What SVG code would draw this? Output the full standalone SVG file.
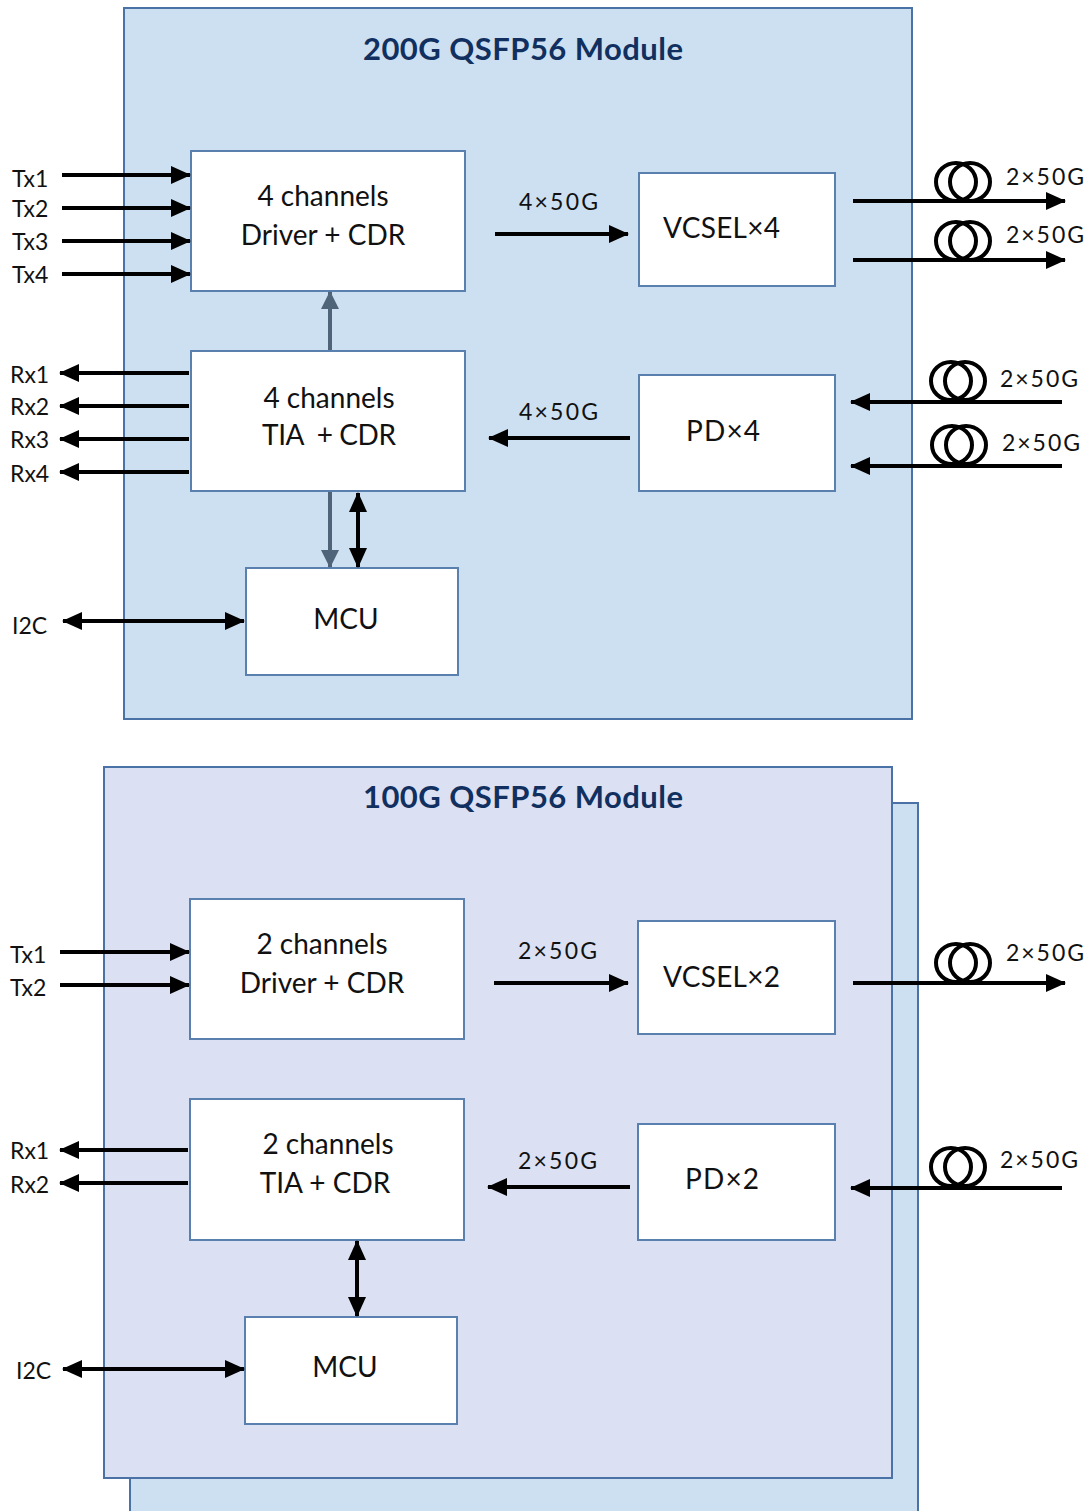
<svg xmlns="http://www.w3.org/2000/svg" width="1092" height="1511" viewBox="0 0 1092 1511">
<style>
.mod{stroke:#4a72a6;stroke-width:2}
.box{fill:#fff;stroke:#5a80b0;stroke-width:2}
.t{font-family:Lato,"Liberation Sans",sans-serif;font-size:28px;fill:#111}
.s{font-family:Lato,"Liberation Sans",sans-serif;font-size:23px;fill:#111}
.ttl{font-family:Lato,"Liberation Sans",sans-serif;font-size:31px;font-weight:bold;fill:#11305f}
.a{stroke:#000;stroke-width:4;fill:none}
.g{stroke:#4f6379;stroke-width:4;fill:none}
.coil{stroke:#000;stroke-width:4;fill:none}
</style>
<defs>
<marker id="ah" markerUnits="userSpaceOnUse" markerWidth="20" markerHeight="18" refX="19" refY="9" orient="auto-start-reverse"><path d="M0,0 L20,9 L0,18 Z" fill="#000"/></marker>
<marker id="ag" markerUnits="userSpaceOnUse" markerWidth="18" markerHeight="18" refX="17" refY="9" orient="auto-start-reverse"><path d="M0,0 L18,9 L0,18 Z" fill="#4f6379"/></marker>
</defs>

<!-- Top module -->
<g id="module200">
<rect class="mod" x="124" y="8" width="788" height="711" fill="#cde0f1"/>
<text class="ttl" x="363" y="60" textLength="320" lengthAdjust="spacing">200G QSFP56 Module</text>
</g>
<g id="driver4"><rect class="box" x="191" y="151" width="274" height="140"/>
<text class="t" x="323" y="206" text-anchor="middle">4 channels</text>
<text class="t" x="323" y="245" text-anchor="middle">Driver + CDR</text></g>
<g id="vcsel4"><rect class="box" x="639" y="173" width="196" height="113"/>
<text class="t" x="663" y="238" textLength="117" lengthAdjust="spacing">VCSEL×4</text></g>
<g id="tia4"><rect class="box" x="191" y="351" width="274" height="140"/>
<text class="t" x="329" y="408" text-anchor="middle">4 channels</text>
<text class="t" x="262" y="445" textLength="134" lengthAdjust="spacing" xml:space="preserve">TIA  + CDR</text></g>
<g id="pd4"><rect class="box" x="639" y="375" width="196" height="116"/>
<text class="t" x="686" y="441" textLength="74" lengthAdjust="spacing">PD×4</text></g>
<g id="mcu1"><rect class="box" x="246" y="568" width="212" height="107"/>
<text class="t" x="346" y="629" text-anchor="middle">MCU</text></g>

<!-- Bottom module -->
<g id="module100">
<rect class="mod" x="130" y="803" width="788" height="720" fill="#cde0f1"/>
<rect class="mod" x="104" y="767" width="788" height="711" fill="#dbe1f3"/>
<text class="ttl" x="363" y="808" textLength="320" lengthAdjust="spacing">100G QSFP56 Module</text>
</g>
<g id="driver2"><rect class="box" x="190" y="899" width="274" height="140"/>
<text class="t" x="322" y="954" text-anchor="middle">2 channels</text>
<text class="t" x="322" y="993" text-anchor="middle">Driver + CDR</text></g>
<g id="vcsel2"><rect class="box" x="638" y="921" width="197" height="113"/>
<text class="t" x="663" y="987" textLength="117" lengthAdjust="spacing">VCSEL×2</text></g>
<g id="tia2"><rect class="box" x="190" y="1099" width="274" height="141"/>
<text class="t" x="328" y="1154" text-anchor="middle">2 channels</text>
<text class="t" x="325" y="1193" text-anchor="middle">TIA + CDR</text></g>
<g id="pd2"><rect class="box" x="638" y="1124" width="197" height="116"/>
<text class="t" x="685" y="1189" textLength="74" lengthAdjust="spacing">PD×2</text></g>
<g id="mcu2"><rect class="box" x="245" y="1317" width="212" height="107"/>
<text class="t" x="345" y="1377" text-anchor="middle">MCU</text></g>

<!-- labels -->
<g id="labels">
<text class="s" x="12" y="187">Tx1</text>
<text class="s" x="12" y="217">Tx2</text>
<text class="s" x="12" y="250">Tx3</text>
<text class="s" x="12" y="283">Tx4</text>
<text class="s" x="10" y="383">Rx1</text>
<text class="s" x="10" y="415">Rx2</text>
<text class="s" x="10" y="448">Rx3</text>
<text class="s" x="10" y="482">Rx4</text>
<text class="s" x="12" y="634">I2C</text>
<text class="s" x="519" y="210" textLength="79" lengthAdjust="spacing">4×50G</text>
<text class="s" x="519" y="420" textLength="79" lengthAdjust="spacing">4×50G</text>
<text class="s" x="1006" y="185" textLength="78" lengthAdjust="spacing">2×50G</text>
<text class="s" x="1006" y="243" textLength="78" lengthAdjust="spacing">2×50G</text>
<text class="s" x="1000" y="387" textLength="78" lengthAdjust="spacing">2×50G</text>
<text class="s" x="1002" y="451" textLength="78" lengthAdjust="spacing">2×50G</text>
<text class="s" x="10" y="963">Tx1</text>
<text class="s" x="10" y="996">Tx2</text>
<text class="s" x="10" y="1159">Rx1</text>
<text class="s" x="10" y="1193">Rx2</text>
<text class="s" x="16" y="1379">I2C</text>
<text class="s" x="518" y="959" textLength="79" lengthAdjust="spacing">2×50G</text>
<text class="s" x="518" y="1169" textLength="79" lengthAdjust="spacing">2×50G</text>
<text class="s" x="1006" y="961" textLength="78" lengthAdjust="spacing">2×50G</text>
<text class="s" x="1000" y="1168" textLength="78" lengthAdjust="spacing">2×50G</text>
</g>

<!-- connectors -->
<g id="connectors">
<line class="a" x1="62" y1="175" x2="190" y2="175" marker-end="url(#ah)"/>
<line class="a" x1="62" y1="208" x2="190" y2="208" marker-end="url(#ah)"/>
<line class="a" x1="62" y1="241" x2="190" y2="241" marker-end="url(#ah)"/>
<line class="a" x1="62" y1="274" x2="190" y2="274" marker-end="url(#ah)"/>
<line class="a" x1="189" y1="373" x2="60" y2="373" marker-end="url(#ah)"/>
<line class="a" x1="189" y1="406" x2="60" y2="406" marker-end="url(#ah)"/>
<line class="a" x1="189" y1="439" x2="60" y2="439" marker-end="url(#ah)"/>
<line class="a" x1="189" y1="472" x2="60" y2="472" marker-end="url(#ah)"/>
<line class="a" x1="495" y1="234" x2="628" y2="234" marker-end="url(#ah)"/>
<line class="a" x1="630" y1="438" x2="489" y2="438" marker-end="url(#ah)"/>
<line class="g" x1="330" y1="350" x2="330" y2="292" marker-end="url(#ag)"/>
<line class="g" x1="330" y1="492" x2="330" y2="567" marker-end="url(#ag)"/>
<line class="a" x1="358" y1="493" x2="358" y2="567" marker-start="url(#ah)" marker-end="url(#ah)"/>
<line class="a" x1="63" y1="621" x2="244" y2="621" marker-start="url(#ah)" marker-end="url(#ah)"/>
<line class="a" x1="853" y1="201" x2="1065" y2="201" marker-end="url(#ah)"/>
<line class="a" x1="853" y1="260" x2="1065" y2="260" marker-end="url(#ah)"/>
<line class="a" x1="1062" y1="402" x2="851" y2="402" marker-end="url(#ah)"/>
<line class="a" x1="1062" y1="466" x2="851" y2="466" marker-end="url(#ah)"/>

<line class="a" x1="60" y1="952" x2="189" y2="952" marker-end="url(#ah)"/>
<line class="a" x1="60" y1="985" x2="189" y2="985" marker-end="url(#ah)"/>
<line class="a" x1="188" y1="1150" x2="60" y2="1150" marker-end="url(#ah)"/>
<line class="a" x1="188" y1="1183" x2="60" y2="1183" marker-end="url(#ah)"/>
<line class="a" x1="494" y1="983" x2="628" y2="983" marker-end="url(#ah)"/>
<line class="a" x1="630" y1="1187" x2="488" y2="1187" marker-end="url(#ah)"/>
<line class="a" x1="357" y1="1241" x2="357" y2="1316" marker-start="url(#ah)" marker-end="url(#ah)"/>
<line class="a" x1="63" y1="1369" x2="244" y2="1369" marker-start="url(#ah)" marker-end="url(#ah)"/>
<line class="a" x1="853" y1="983" x2="1065" y2="983" marker-end="url(#ah)"/>
<line class="a" x1="1062" y1="1188" x2="851" y2="1188" marker-end="url(#ah)"/>
</g>

<!-- fiber coils -->
<g id="coils">
<ellipse class="coil" cx="956" cy="182" rx="20" ry="19"/><ellipse class="coil" cx="970" cy="182" rx="20" ry="19"/>
<ellipse class="coil" cx="956" cy="241" rx="20" ry="19"/><ellipse class="coil" cx="970" cy="241" rx="20" ry="19"/>
<ellipse class="coil" cx="951" cy="381" rx="20" ry="19"/><ellipse class="coil" cx="965" cy="381" rx="20" ry="19"/>
<ellipse class="coil" cx="952" cy="445" rx="20" ry="19"/><ellipse class="coil" cx="966" cy="445" rx="20" ry="19"/>
<ellipse class="coil" cx="956" cy="963" rx="20" ry="19"/><ellipse class="coil" cx="970" cy="963" rx="20" ry="19"/>
<ellipse class="coil" cx="951" cy="1167" rx="20" ry="19"/><ellipse class="coil" cx="965" cy="1167" rx="20" ry="19"/>
</g>
</svg>
